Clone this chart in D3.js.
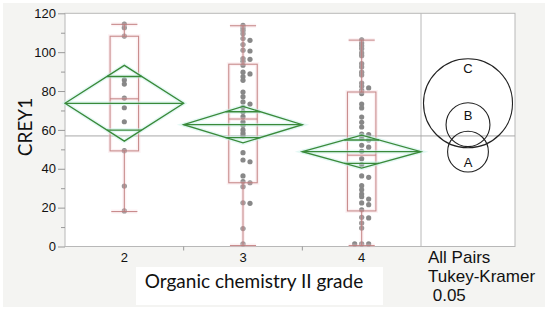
<!DOCTYPE html>
<html>
<head>
<meta charset="utf-8">
<script src="https://cdn.jsdelivr.net/npm/d3@7"></script>
<style>
body { margin: 0; background: #fff; }
</style>
</head>
<body>
<svg id="chart" width="550" height="314"></svg>
<script>
// values
const categories = ["2", "3", "4"];
const grade2 = [114.5, 112.6, 108.3, 85.7, 83.6, 76.4, 71.4, 64.2, 49.3, 31.1, 18.3];
const grade3 = [113.8, 112.5, 111.1, 109.5, 107.0, 106.1, 103.9, 101.0, 100.6, 96.7, 96.3, 95.3,
    93.3, 89.7, 88.8, 87.4, 85.5, 79.5, 77.1, 74.4, 73.3, 71.6, 69.2, 66.8, 64.1, 62.4, 60.0,
    58.3, 56.9, 48.3, 44.5, 43.6, 36.3, 33.4, 32.8, 30.8, 22.5, 22.2, 9.2, 1.3];
const grade4 = [106.4, 104.7, 103.3, 101.8, 99.6, 98.2, 94.1, 92.4, 89.7, 88.3, 84.1, 82.4,
    81.6, 80.4, 78.7, 73.3, 71.3, 66.6, 63.9, 61.5, 57.9, 57.6, 55.7, 54.8, 52.1, 51.1, 49.0,
    45.2, 42.1, 36.3, 35.6, 31.3, 29.2, 27.0, 25.6, 24.4, 22.4, 21.5, 18.9, 15.0, 14.7, 12.1,
    9.5, 1.3, 1.3, 1.3];
const means = [73.7, 62.7, 48.8];
const diamondHalf = [19.5, 9.4, 8.5];
const q1 = [49.2, 32.8, 18.3];
const medians = [76.0, 65.6, 47.0];
const q3 = [108.2, 93.8, 79.5];
const whiskerLow = [18.0, 0.5, 0.5];
const whiskerHigh = [114.3, 113.6, 106.2];
const grandMean = 56.9;
const yTicks = [0, 20, 40, 60, 80, 100, 120];
const yMinorTicks = [10, 30, 50, 70, 90, 110];
const circleLetters = ["C", "B", "A"];
const circleRadius = [22.9, 11.3, 10.5];
const footnote = ["All Pairs", "Tukey-Kramer", " 0.05"];

const svg = d3.select("#chart");
const plotLeft = 65, plotRight = 421, panelRight = 515, plotTop = 13.3, plotBottom = 246.5;

const y = d3.scaleLinear().domain([0, 120]).range([plotBottom, plotTop]);
const x = d3.scaleBand().domain(categories).range([plotLeft, plotRight]);
const bw = x.bandwidth();
const cx = c => x(c) + bw / 2;

// backgrounds
svg.append("rect")
    .attr("x", 3).attr("y", 3)
    .attr("width", 542).attr("height", 304)
    .attr("fill", "#f4f4f2");

svg.append("rect")
    .attr("x", plotLeft).attr("y", plotTop)
    .attr("width", panelRight - plotLeft).attr("height", plotBottom - plotTop)
    .attr("fill", "#fff")
    .attr("stroke", "#b8b8b8")
    .attr("stroke-width", 1);

svg.append("line")
    .attr("x1", plotRight).attr("x2", plotRight)
    .attr("y1", plotTop).attr("y2", plotBottom)
    .attr("stroke", "#b8b8b8");

svg.append("rect")
    .attr("x", 136).attr("y", 267)
    .attr("width", 247).attr("height", 38)
    .attr("fill", "#fff");

// y axis
const yAxis = svg.append("g")
    .attr("transform", `translate(${plotLeft},0)`)
    .call(d3.axisLeft(y).tickValues(yTicks).tickSize(7).tickPadding(2));
yAxis.select(".domain").remove();
yAxis.selectAll("line").attr("stroke", "#999");
yAxis.selectAll("text")
    .attr("font-family", "'Liberation Sans', Arial, sans-serif")
    .attr("font-size", 13)
    .attr("fill", "#111");

const yMinor = svg.append("g")
    .attr("transform", `translate(${plotLeft},0)`)
    .call(d3.axisLeft(y).tickValues(yMinorTicks).tickSize(4).tickFormat(""));
yMinor.select(".domain").remove();
yMinor.selectAll("line").attr("stroke", "#999");

// x axis
const xAxis = svg.append("g")
    .attr("transform", `translate(0,${plotBottom})`)
    .call(d3.axisBottom(x).tickSize(0).tickPadding(6));
xAxis.select(".domain").remove();
xAxis.selectAll("text")
    .attr("font-family", "'Liberation Sans', Arial, sans-serif")
    .attr("font-size", 13)
    .attr("fill", "#111");

svg.selectAll()
    .data(categories.slice(0, 2))
    .enter().append("line")
    .attr("x1", d => x(d) + bw).attr("x2", d => x(d) + bw)
    .attr("y1", plotBottom).attr("y2", plotBottom + 4)
    .attr("stroke", "#999");

// axis titles
svg.append("text")
    .attr("transform", "translate(32,127) rotate(-90)")
    .attr("text-anchor", "middle")
    .attr("font-family", "Lato, 'Open Sans', sans-serif")
    .attr("font-size", 19)
    .attr("fill", "#111")
    .text("CREY1");

svg.append("text")
    .attr("x", 254).attr("y", 288)
    .attr("text-anchor", "middle")
    .attr("font-family", "Lato, 'Open Sans', sans-serif")
    .attr("font-size", 19)
    .attr("fill", "#111")
    .text("Organic chemistry II grade");

// grand mean
svg.append("line")
    .attr("x1", plotLeft).attr("x2", panelRight)
    .attr("y1", y(grandMean)).attr("y2", y(grandMean))
    .attr("stroke", "#a8a8a8")
    .attr("stroke-width", 1);

// points, nudged sideways only where they would sit on top of each other
const dots = [];
[grade2, grade3, grade4].forEach((vals, gi) => {
    const placed = [];
    vals.forEach(v => {
        const py = y(v);
        let off = 0;
        for (const t of [0, 7, -7, 12, -12]) {
            if (!placed.some(p => Math.abs(p.py - py) < 2.5 && Math.abs(p.off - t) < 5)) { off = t; break; }
        }
        placed.push({ py, off });
        dots.push({ cat: categories[gi], v: v, off: off });
    });
});

svg.selectAll()
    .data(dots)
    .enter().append("circle")
    .attr("r", 2.6)
    .attr("cx", d => cx(d.cat) + d.off)
    .attr("cy", d => y(d.v))
    .attr("fill", "#888");

// box plots
const boxW = bw * 0.24, capW = bw * 0.22;
function drawBoxes(stroke, width, opacity) {
    const g = svg.append("g")
        .attr("stroke", stroke)
        .attr("stroke-width", width)
        .attr("stroke-opacity", opacity)
        .attr("fill", "none");
    g.selectAll()
        .data(categories)
        .enter().append("rect")
        .attr("x", d => cx(d) - boxW / 2)
        .attr("width", boxW)
        .attr("y", (d, i) => y(q3[i]))
        .attr("height", (d, i) => y(q1[i]) - y(q3[i]));
    g.selectAll()
        .data(categories)
        .enter().append("line")
        .attr("x1", d => cx(d) - boxW / 2).attr("x2", d => cx(d) + boxW / 2)
        .attr("y1", (d, i) => y(medians[i])).attr("y2", (d, i) => y(medians[i]));
    g.selectAll()
        .data(categories)
        .enter().append("line")
        .attr("x1", d => cx(d)).attr("x2", d => cx(d))
        .attr("y1", (d, i) => y(q3[i])).attr("y2", (d, i) => y(whiskerHigh[i]));
    g.selectAll()
        .data(categories)
        .enter().append("line")
        .attr("x1", d => cx(d)).attr("x2", d => cx(d))
        .attr("y1", (d, i) => y(q1[i])).attr("y2", (d, i) => y(whiskerLow[i]));
    g.selectAll()
        .data(categories.flatMap((c, i) => [[c, whiskerHigh[i]], [c, whiskerLow[i]]]))
        .enter().append("line")
        .attr("x1", d => cx(d[0]) - capW / 2).attr("x2", d => cx(d[0]) + capW / 2)
        .attr("y1", d => y(d[1])).attr("y2", d => y(d[1]));
}
drawBoxes("#f4cfd8", 4, 0.3);
drawBoxes("#c07a7a", 1.1, 0.85);

// means diamonds
function diamondPath(c, i) {
    const x0 = x(c), x1 = x(c) + bw, xm = cx(c);
    return `M${x0},${y(means[i])}L${xm},${y(means[i] + diamondHalf[i])}L${x1},${y(means[i])}L${xm},${y(means[i] - diamondHalf[i])}Z`;
}
const marks = categories.flatMap((c, i) => {
    const h = diamondHalf[i] / Math.SQRT2;
    const hw = (bw / 2) * (1 - 1 / Math.SQRT2);
    return [
        { x1: x(c), x2: x(c) + bw, v: means[i] },
        { x1: cx(c) - hw, x2: cx(c) + hw, v: means[i] + h },
        { x1: cx(c) - hw, x2: cx(c) + hw, v: means[i] - h }
    ];
});

[["#c9f1ea", 4, 0.5], ["#3a8a3a", 1.3, 1]].forEach(s => {
    svg.selectAll()
        .data(categories)
        .enter().append("path")
        .attr("d", diamondPath)
        .attr("fill", "none")
        .attr("stroke", s[0])
        .attr("stroke-width", s[1])
        .attr("stroke-opacity", s[2]);
    svg.selectAll()
        .data(marks)
        .enter().append("line")
        .attr("x1", d => d.x1).attr("x2", d => d.x2)
        .attr("y1", d => y(d.v)).attr("y2", d => y(d.v))
        .attr("stroke", s[0])
        .attr("stroke-width", s[1])
        .attr("stroke-opacity", s[2]);
});

// comparison circles
const circleX = (plotRight + panelRight) / 2;
const circleR = i => y(0) - y(circleRadius[i]);
svg.selectAll()
    .data(circleLetters)
    .enter().append("circle")
    .attr("cx", circleX)
    .attr("cy", (d, i) => y(means[i]))
    .attr("r", (d, i) => circleR(i))
    .attr("fill", "none")
    .attr("stroke", "#222")
    .attr("stroke-width", 1.1);

const letterY = [
    i => y(means[i]) - circleR(i) + 14,
    i => y(means[i]) - circleR(i) + 17,
    i => y(means[i]) + 15
];
svg.selectAll()
    .data(circleLetters)
    .enter().append("text")
    .attr("x", circleX)
    .attr("y", (d, i) => letterY[i](i))
    .attr("text-anchor", "middle")
    .attr("font-family", "'Liberation Sans', Arial, sans-serif")
    .attr("font-size", 13)
    .attr("fill", "#111")
    .text(d => d);

// footnote under the circles panel
svg.selectAll()
    .data(footnote)
    .enter().append("text")
    .attr("x", 428)
    .attr("y", (d, i) => 263 + i * 19)
    .attr("font-family", "'Liberation Sans', Arial, sans-serif")
    .attr("font-size", 17)
    .attr("fill", "#111")
    .attr("xml:space", "preserve")
    .style("white-space", "pre")
    .text(d => d);
</script>
</body>
</html>
